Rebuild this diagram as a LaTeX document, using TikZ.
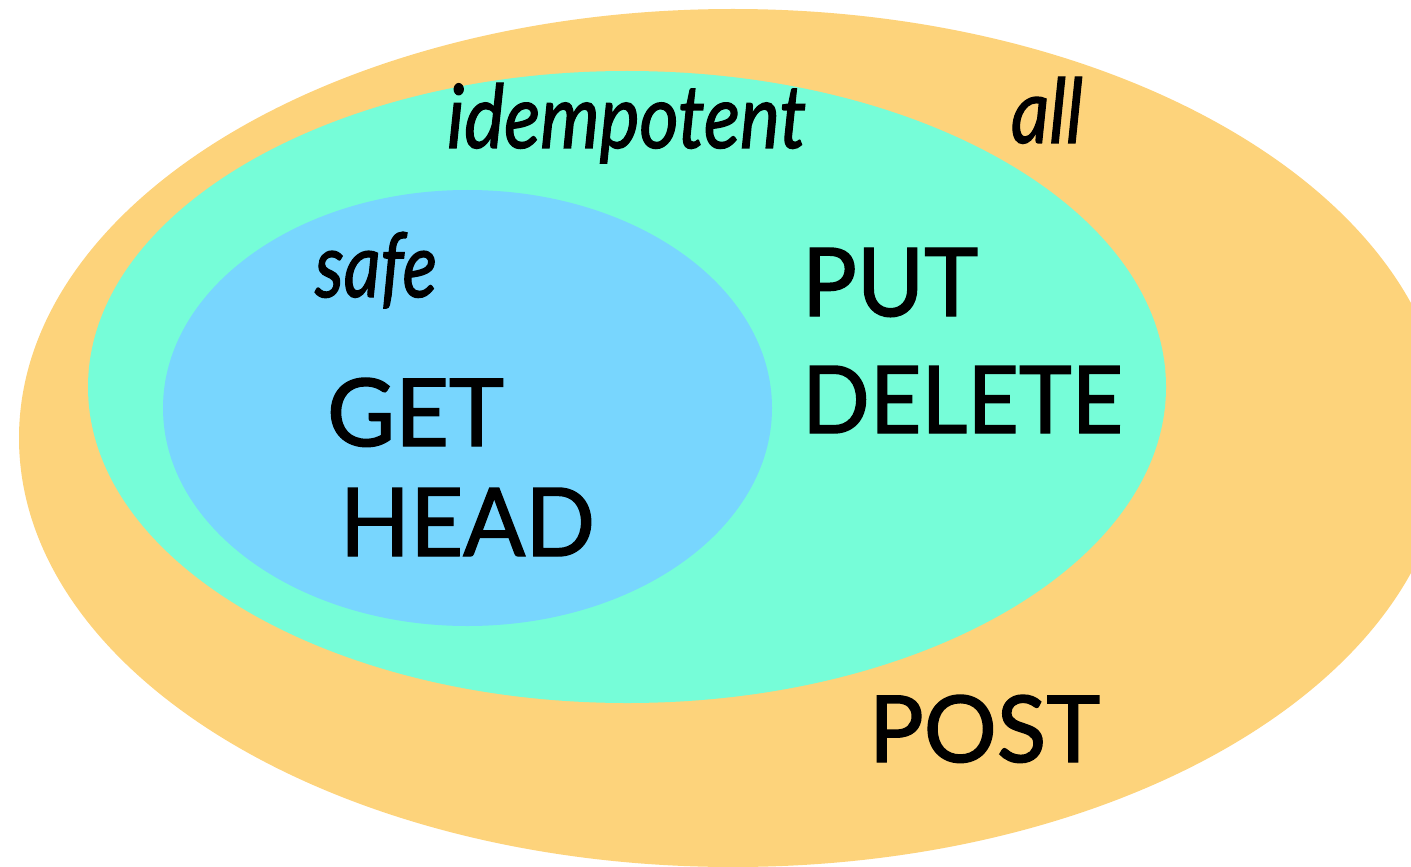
\documentclass[tikz,border=0pt]{standalone}
\usepackage{fontspec}
\setmainfont{Lato}[FakeBold=1.5]
\usepackage{graphicx}
\definecolor{allc}{RGB}{253,211,123}
\definecolor{idemc}{RGB}{118,253,216}
\definecolor{safec}{RGB}{120,214,254}
\begin{document}
\begin{tikzpicture}[x=0.5pt,y=-0.5pt,
  lbl/.style={inner sep=0pt, outer sep=0pt, anchor=base west, text=black}]
\useasboundingbox (0,0) rectangle (1411,866);
\clip (0,0) rectangle (1411,866);
\fill[allc] (733,438) ellipse [x radius=714, y radius=429];
\fill[idemc] (627,387) ellipse [x radius=539, y radius=316];
\fill[safec] (467.5,408) ellipse [x radius=304.5, y radius=218];
\node[lbl] (idem) at (447,148) {\resizebox{179.5pt}{32.5pt}{\itshape idempotent}};
\node[lbl] (all) at (1011,143) {\resizebox{36pt}{33pt}{\itshape all}};
\node[lbl] (safe) at (315,297) {\resizebox{61pt}{32.5pt}{\itshape safe}};
\node[lbl] (get) at (327,446) {\resizebox{88.5pt}{34pt}{GET}};
\node[lbl] (head) at (340,556) {\resizebox{127.5pt}{34pt}{HEAD}};
\node[lbl] (put) at (802,316) {\resizebox{88pt}{34pt}{PUT}};
\node[lbl] (delete) at (802,433) {\resizebox{160.5pt}{33.5pt}{DELETE}};
\node[lbl] (post) at (869,762) {\resizebox{115.5pt}{33.5pt}{POST}};
\end{tikzpicture}
\end{document}
